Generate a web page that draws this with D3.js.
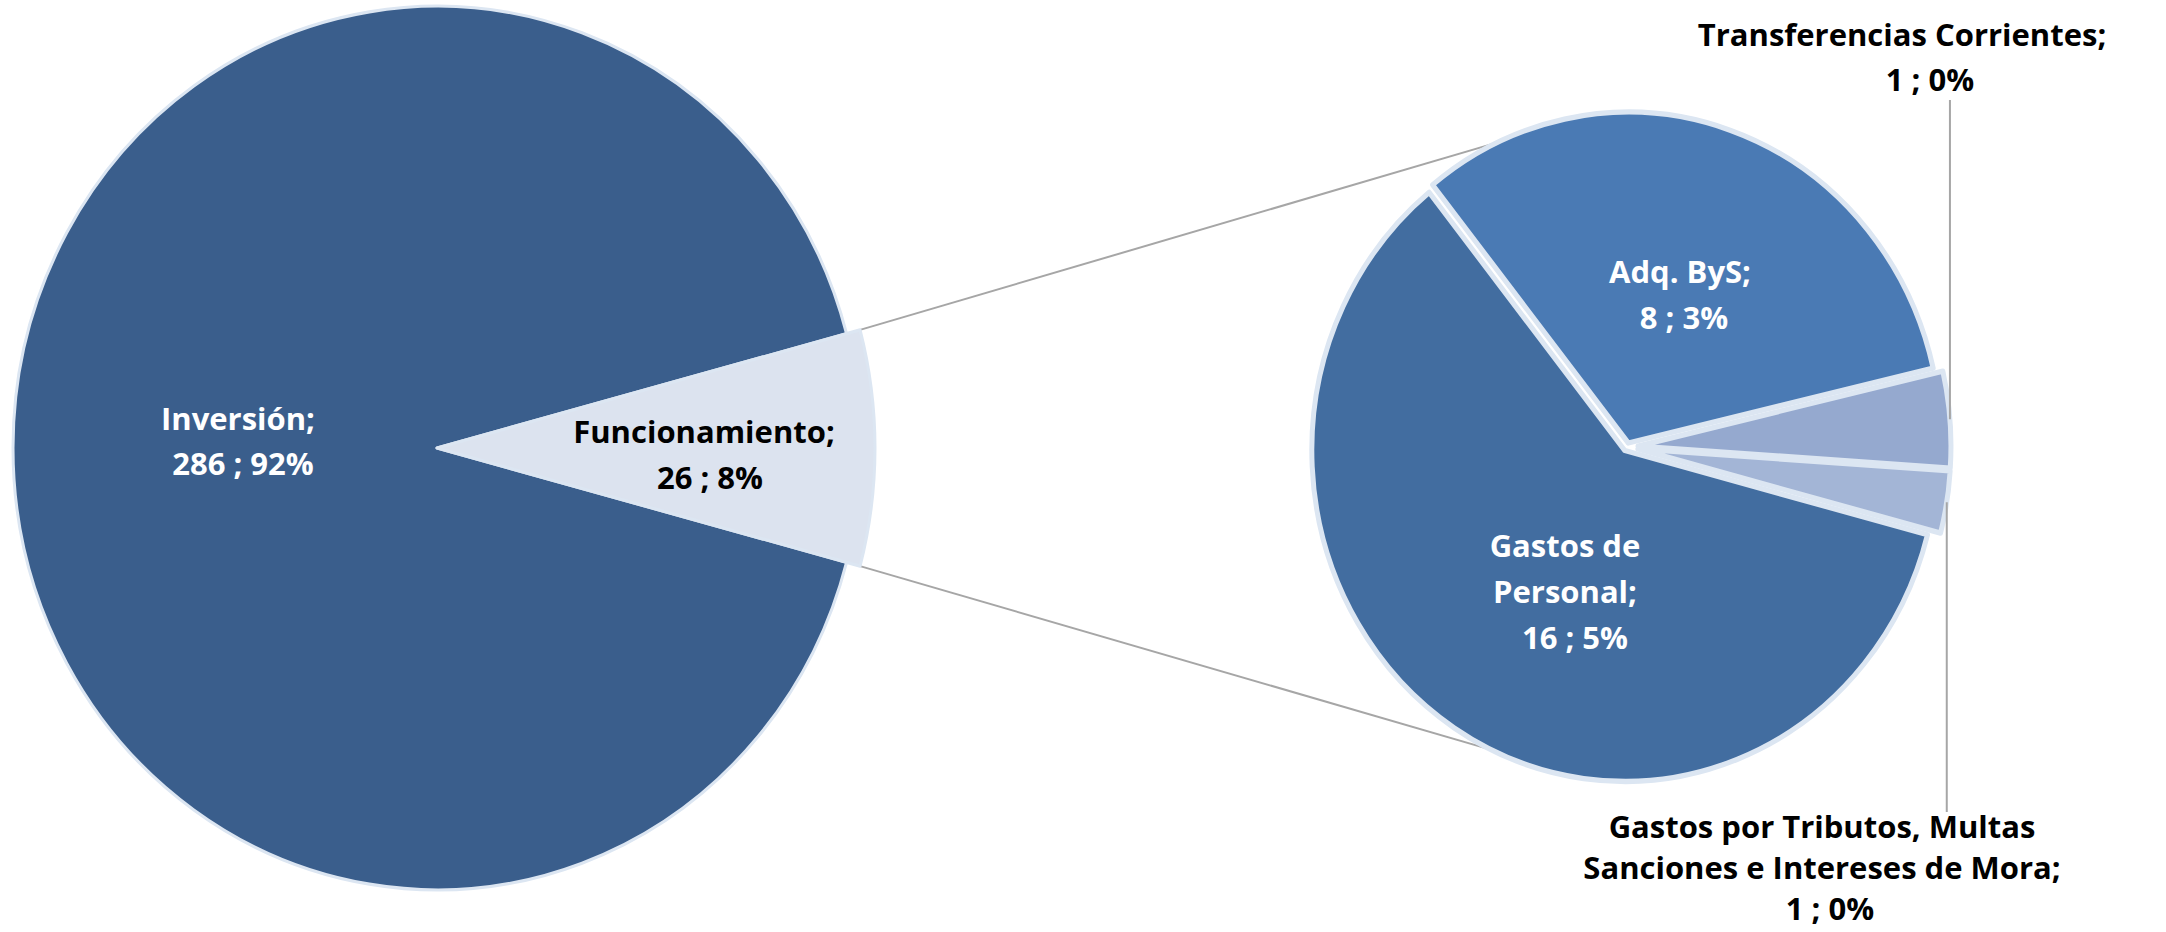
<!DOCTYPE html>
<meta charset="utf-8">
<style>
  body { margin: 0; background: #fff; }
  text { font-family: "Open Sans", sans-serif; font-weight: 700; font-size: 31px; }
  .link { stroke: #a6a6a6; stroke-width: 2; fill: none; }
</style>
<svg width="2166" height="932"></svg>
<script src="https://d3js.org/d3.v7.min.js"></script>
<script>
// data
var mainCats = ["Inversión", "Funcionamiento"];
var mainVals = [286, 26];
var subCats = ["Adq. ByS", "Transferencias Corrientes", "Gastos por Tributos, Multas\nSanciones e Intereses de Mora", "Gastos de\nPersonal"];
// the labels show them rounded
var subVals = [8.35, 1.22, 0.79, 15.64];

var mainColors = ["#3a5e8c", "#dce3ef"];
var subColors = ["#4a7ab4", "#95a9cf", "#a3b5d6", "#426da0"];
var mainText = ["#fff", "#000"];
var subText = ["#fff", "#000", "#000", "#fff"];

var total = d3.sum(mainVals);
var rad = Math.PI / 180;

var svg = d3.select("svg");

// layout
var L = {cx: 437, cy: 448, k: 1.042, r: 424};
var R = {cx: 1627, cy: 447, k: 1.057, r: 313};
var mainR = [424, 438];
var explode = [4, 11, 11, 4];
// x, first baseline, dx of the value line, line height
var mainLabelPos = [[238, 430, 5, 45], [704, 443, 6, 46]];
var subLabelPos = [[1680, 283, 4, 46], [1902, 46, 28, 45], [1822, 838, 8, 41], [1565, 557, 10, 46]];

function pt(p, r, a) {
    return [p.cx + r * Math.sin(a), p.cy - p.k * r * Math.cos(a)];
}

var pieMain = d3.pie().sort(null).startAngle(105 * rad).endAngle(465 * rad);
var pieSub = d3.pie().sort(null).startAngle(-38.7 * rad).endAngle(321.3 * rad);

var mainArcs = pieMain(mainVals);
var subArcs = pieSub(subVals);

// connector lines between the two pies
var fa = mainArcs[1];
var links = [
    [pt(L, mainR[1], fa.startAngle), pt(R, R.r, -19.5 * rad)],
    [pt(L, mainR[1], fa.endAngle), pt(R, R.r, 199.5 * rad)]
];
svg.selectAll(".link").data(links).enter().append("line")
    .attr("class", "link")
    .attr("x1", function(d) { return d[0][0]; })
    .attr("y1", function(d) { return d[0][1]; })
    .attr("x2", function(d) { return d[1][0]; })
    .attr("y2", function(d) { return d[1][1]; });

// left pie
var gL = svg.append("g").attr("transform", "translate(" + L.cx + "," + L.cy + ") scale(1," + L.k + ")");
var arcMain = d3.arc().innerRadius(0).outerRadius(function(d) { return mainR[d.index]; });
gL.selectAll("path").data(mainArcs).enter().append("path")
    .attr("d", arcMain)
    .attr("fill", function(d, i) { return mainColors[i]; })
    .attr("stroke", "#dce6f2")
    .attr("stroke-width", 3)
    .attr("stroke-linejoin", "round");

// right pie
function mid(d) { return (d.startAngle + d.endAngle) / 2; }
var gR = svg.append("g").attr("transform", "translate(" + R.cx + "," + R.cy + ") scale(1," + R.k + ")");
var arcSub = d3.arc().innerRadius(0).outerRadius(R.r);
gR.selectAll("path").data(subArcs).enter().append("path")
    .attr("d", arcSub)
    .attr("transform", function(d, i) {
        return "translate(" + (explode[i] * Math.sin(mid(d))) + "," + (-explode[i] * Math.cos(mid(d))) + ")";
    })
    .attr("fill", function(d, i) { return subColors[i]; })
    .attr("stroke", "#dce6f2")
    .attr("stroke-width", 5)
    .attr("stroke-linejoin", "round");

// leader lines for the small slices
[1, 2].forEach(function(i) {
    var d = subArcs[i];
    var c = {cx: R.cx + explode[i] * Math.sin(mid(d)), cy: R.cy - explode[i] * Math.cos(mid(d)) * R.k, k: R.k};
    var p = pt(c, R.r, mid(d));
    var yEnd = i === 1 ? 100 : 812;
    svg.append("line").attr("class", "link")
        .attr("x1", p[0]).attr("y1", p[1])
        .attr("x2", p[0]).attr("y2", yEnd);
});

// labels
function label(name, value, pos, color) {
    var lines = name.split("\n");
    lines[lines.length - 1] += ";";
    var t = svg.append("text").attr("text-anchor", "middle").attr("fill", color);
    lines.forEach(function(s, j) {
        t.append("tspan").attr("x", pos[0]).attr("y", pos[1] + j * pos[3]).text(s);
    });
    t.append("tspan").attr("x", pos[0] + pos[2]).attr("y", pos[1] + lines.length * pos[3])
        .text(Math.round(value) + " ; " + Math.round(value / total * 100) + "%");
}

mainCats.forEach(function(c, i) { label(c, mainVals[i], mainLabelPos[i], mainText[i]); });
subCats.forEach(function(c, i) { label(c, subVals[i], subLabelPos[i], subText[i]); });
</script>
